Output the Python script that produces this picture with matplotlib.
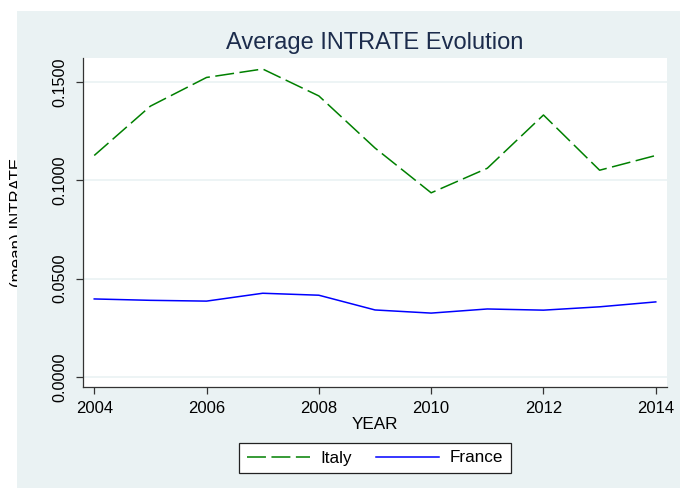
import numpy as np
import matplotlib.pyplot as plt
from matplotlib.patches import Rectangle

plt.rcParams['font.family'] = ['Liberation Sans', 'DejaVu Sans']

years = [2004, 2005, 2006, 2007, 2008, 2009, 2010, 2011, 2012, 2013, 2014]
italy = [0.1127, 0.1378, 0.1524, 0.1567, 0.1430, 0.1165, 0.0937, 0.1062, 0.1333, 0.1052, 0.1127]
france = [0.0397, 0.0390, 0.0386, 0.0426, 0.0416, 0.0341, 0.0325, 0.0346, 0.0340, 0.0357, 0.0382]

yticks = [0.0, 0.05, 0.10, 0.15]
ytick_labels = ["0.0000", "0.0500", "0.1000", "0.1500"]
xticks = [2004, 2006, 2008, 2010, 2012, 2014]

bg = "#eaf2f3"
W, H = 680, 488

fig = plt.figure(figsize=(6.8, 4.88), dpi=100)
fig.patch.set_facecolor("white")

# y label sits partly under the graph region (clipped like the original)
fig.text(10 / W, 1 - 222 / H, "(mean) INTRATE", rotation=90, fontsize=12.2,
         ha="left", va="center", zorder=0.2)
fig.patches.append(Rectangle((17 / W, 0), 1 - 17 / W, (H - 11) / H,
                             transform=fig.transFigure, facecolor=bg,
                             edgecolor="none", zorder=0.5))

ax = fig.add_axes([83 / W, (H - 387) / H, (667 - 83) / W, (387 - 58) / H])
ax.set_zorder(1)
ax.set_facecolor("white")

ax.plot(years, italy, color="#008000", lw=1.1, ls=(0, (12.4, 3.6)), label="Italy")
ax.plot(years, france, color="#0000ff", lw=1.1, label="France")

ax.set_xlim(2003.8, 2014.2)
ax.set_ylim(-0.0051, 0.1623)
ax.set_xticks(xticks)
ax.set_yticks(yticks)
ax.set_yticklabels(ytick_labels, rotation=90, va="center")
ax.grid(axis="y", color=bg, lw=1.2)
ax.set_axisbelow(True)

for s in ["top", "right"]:
    ax.spines[s].set_visible(False)
for s in ["left", "bottom"]:
    ax.spines[s].set_color("#333333")
    ax.spines[s].set_linewidth(0.9)
ax.tick_params(axis="both", direction="out", length=5, width=0.9,
               color="#333333", labelsize=12, labelcolor="black")
ax.tick_params(axis="y", labelsize=11.7, pad=6)
ax.tick_params(axis="x", pad=5)

ax.set_xlabel("YEAR", fontsize=12.3, labelpad=1)
fig.text(375 / W, 1 - 43 / H, "Average INTRATE Evolution", fontsize=17,
         color="#1c2c4c", ha="center", va="center", zorder=3)

leg = fig.legend(loc="center", bbox_to_anchor=(375 / W, 1 - 458 / H), ncol=2,
                 fontsize=12.3, frameon=True, fancybox=False, handlelength=3.7,
                 handletextpad=0.6, columnspacing=1.4, borderpad=0.45,
                 borderaxespad=0, framealpha=1)
leg.set_zorder(5)
leg.get_frame().set_edgecolor("#222222")
leg.get_frame().set_linewidth(0.9)
leg.get_frame().set_facecolor("white")

fig.savefig("out.png", dpi=100, facecolor=fig.get_facecolor())
